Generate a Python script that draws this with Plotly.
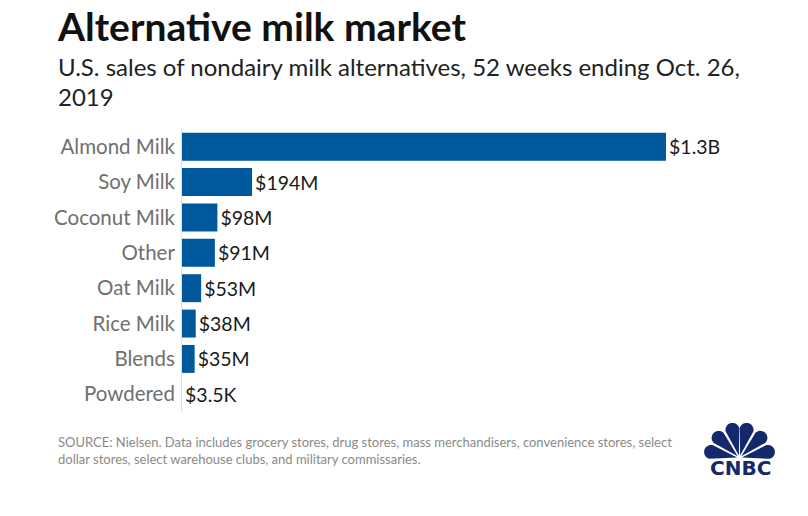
import math
import plotly.graph_objects as go

# ---------------- data ----------------
categories = ["Almond Milk", "Soy Milk", "Coconut Milk", "Other", "Oat Milk",
              "Rice Milk", "Blends", "Powdered"]
sales_musd = [1340, 194, 98, 91, 53, 38, 35, 0.0035]
value_labels = ["$1.3B", "$194M", "$98M", "$91M", "$53M", "$38M", "$35M", "$3.5K"]

title_text = "Alternative milk market"
subtitle_line1 = "U.S. sales of nondairy milk alternatives, 52 weeks ending Oct. 26,"
subtitle_line2 = "2019"
source_line1 = ("SOURCE: Nielsen. Data includes grocery stores, drug stores, mass "
                "merchandisers, convenience stores, select")
source_line2 = "dollar stores, select warehouse clubs, and military commissaries."

W, H = 808, 516
FONT = "Lato"
BAR = "#00599c"
NAVY = "#13296b"


def px(x):
    return x / W


def py(y):
    return 1 - y / H


fig = go.Figure()
fig.add_trace(go.Bar(
    y=categories, x=sales_musd, orientation="h",
    marker=dict(color=BAR, line=dict(width=0)),
    width=0.79,
    text=value_labels, textposition="outside",
    textfont=dict(family=FONT, size=19.5, color="#1a1a1a"),
    cliponaxis=False, hoverinfo="skip", showlegend=False,
))

x0, x1 = 182, 796
xmax = 1340 * (x1 - x0) / (666 - x0)

annotations = [
    dict(text="<b>" + title_text + "</b>", x=px(55), y=py(26), xanchor="left", yanchor="middle",
         font=dict(family=FONT, size=39, color="#111111")),
    dict(text=subtitle_line1, x=px(56), y=py(66), xanchor="left", yanchor="middle",
         font=dict(family=FONT, size=24, color="#222222")),
    dict(text=subtitle_line2, x=px(56), y=py(96), xanchor="left", yanchor="middle",
         font=dict(family=FONT, size=24, color="#222222")),
    dict(text=source_line1, x=px(56), y=py(442), xanchor="left", yanchor="middle",
         font=dict(family=FONT, size=13, color="#8a8a8a")),
    dict(text=source_line2, x=px(56), y=py(459), xanchor="left", yanchor="middle",
         font=dict(family=FONT, size=13, color="#8a8a8a")),
    dict(text="<b>CNBC</b>", x=45, y=10.5, xref="x2", yref="y2", xanchor="center",
         yanchor="middle", showarrow=False,
         font=dict(family="DejaVu Sans", size=20, color=NAVY)),
]
for a in annotations:
    a.setdefault("xref", "paper")
    a.setdefault("yref", "paper")
    a["showarrow"] = False

# ---- CNBC peacock logo (decorative) ----
shapes = []
ox, oy = 44.5, 20.0
d, rt, r0 = 29.0, 7.0, 2.5
for ang in [168, 136, 104, 76, 44, 12]:
    t = math.radians(ang)
    ux, uy = math.cos(t), math.sin(t)
    nx, ny = -uy, ux
    cx, cy = ox + d * ux, oy + d * uy
    pts = [(ox + r0 * ux, oy + r0 * uy)]
    for k in range(0, 19):
        a = math.radians(-90 + k * 10)
        fx, fs = math.cos(a), math.sin(a)
        pts.append((cx + rt * (fx * ux + fs * nx), cy + rt * (fx * uy + fs * ny)))
    path = "M " + " L ".join(f"{p[0]:.2f},{p[1]:.2f}" for p in pts) + " Z"
    shapes.append(dict(type="path", path=path, xref="x2", yref="y2",
                       fillcolor=NAVY, line=dict(width=0)))

fig.update_layout(
    width=W, height=H,
    margin=dict(l=0, r=0, t=0, b=0),
    paper_bgcolor="white", plot_bgcolor="white",
    bargap=0.2,
    xaxis=dict(domain=[px(x0), px(x1)], range=[0, xmax], visible=False, fixedrange=True),
    yaxis=dict(domain=[py(412), py(129)], range=[7.5, -0.5], autorange=False,
               categoryorder="array", categoryarray=categories,
               showgrid=False, zeroline=False, showline=True,
               linecolor="#e3ddd7", linewidth=1, ticks="",
               ticklabelstandoff=2,
               tickfont=dict(family=FONT, size=20.5, color="#6f6f6f")),
    xaxis2=dict(domain=[px(695), px(780)], range=[0, 85], visible=False, fixedrange=True,
                anchor="y2"),
    yaxis2=dict(domain=[py(478), py(420)], range=[0, 58], visible=False, fixedrange=True,
                anchor="x2"),
    annotations=annotations,
    shapes=shapes,
)
# invisible trace to activate the logo axes
fig.add_trace(go.Scatter(x=[0], y=[0], xaxis="x2", yaxis="y2", mode="markers",
                         marker=dict(opacity=0), hoverinfo="skip", showlegend=False))

fig.write_html("out.html")
